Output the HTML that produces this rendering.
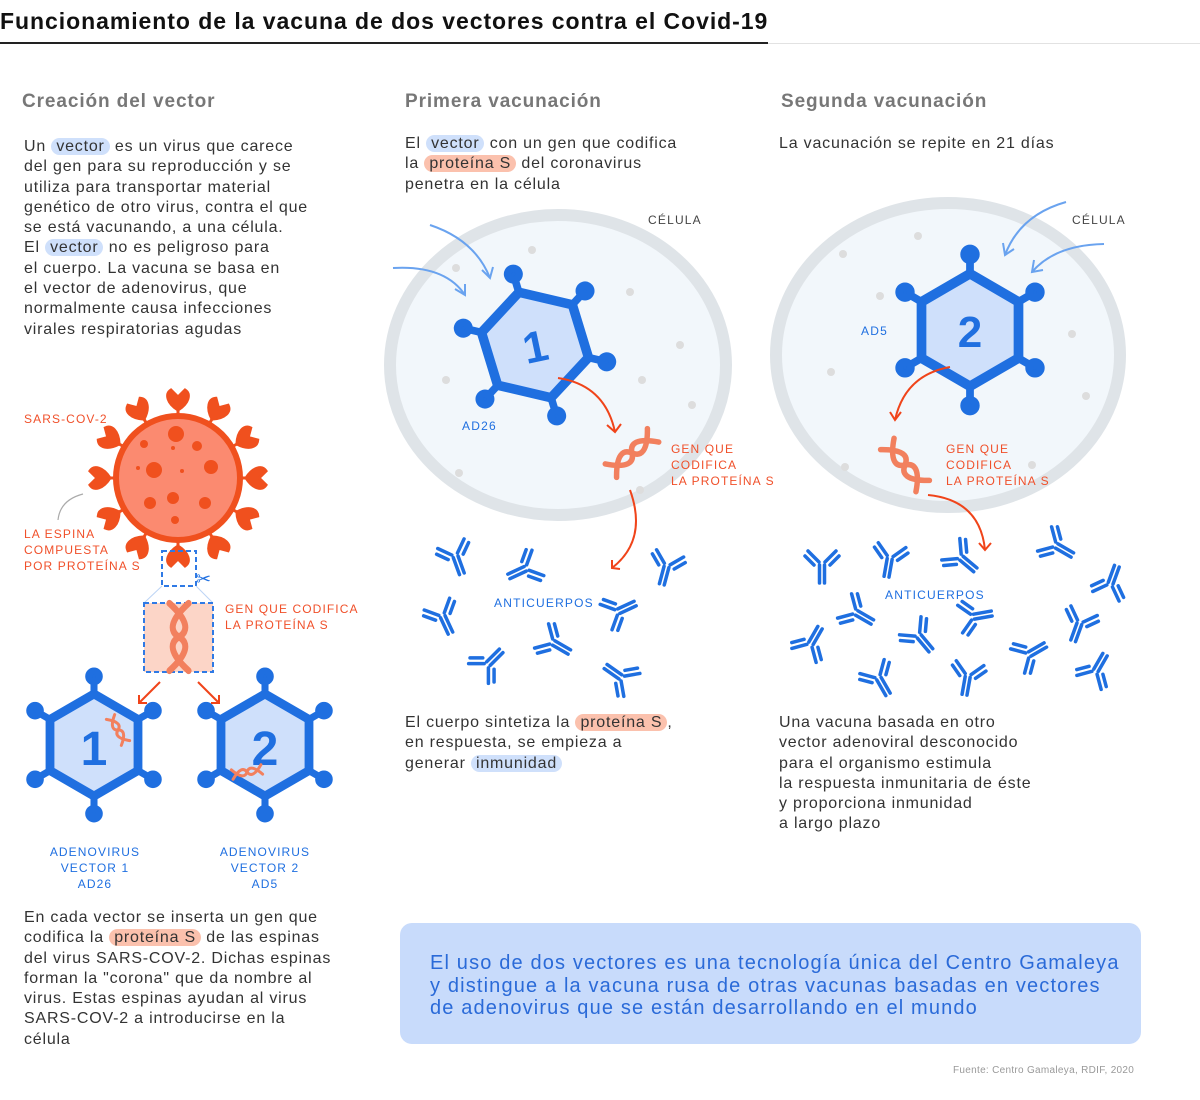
<!DOCTYPE html>
<html><head><meta charset="utf-8"><style>
body{margin:0;width:1200px;height:1100px;background:#fff;font-family:"Liberation Sans",sans-serif;position:relative;overflow:hidden}
.a{position:absolute}
h1{position:absolute;left:0;top:8px;margin:0;font-size:23px;font-weight:bold;color:#111;letter-spacing:0.95px}
h2{position:absolute;margin:0;font-size:19px;font-weight:bold;color:#777;letter-spacing:0.9px}
.p{position:absolute;font-size:16px;line-height:20.3px;color:#333;letter-spacing:0.8px;white-space:nowrap}
.b{background:#cfe0fb;border-radius:10px;padding:0 5px}
.r{background:#fbc1ad;border-radius:10px;padding:0 5px}
.lab{position:absolute;font-size:12px;letter-spacing:1.1px;line-height:16px}
.o{color:#f0502a}.bl{color:#1f6fe0}.g{color:#444}
</style></head><body>
<h1>Funcionamiento de la vacuna de dos vectores contra el Covid-19</h1>
<div class="a" style="left:0;top:43px;width:1200px;height:1px;background:#e2e2e2"></div>
<div class="a" style="left:0;top:42px;width:768px;height:2px;background:#222"></div>
<h2 style="left:22px;top:91px">Creación del vector</h2>
<h2 style="left:405px;top:91px">Primera vacunación</h2>
<h2 style="left:781px;top:91px">Segunda vacunación</h2>
<div class="p" style="left:24px;top:137px">Un <span class="b">vector</span> es un virus que carece<br>del gen para su reproducción y se<br>utiliza para transportar material<br>genético de otro virus, contra el que<br>se está vacunando, a una célula.<br>El <span class="b">vector</span> no es peligroso para<br>el cuerpo. La vacuna se basa en<br>el vector de adenovirus, que<br>normalmente causa infecciones<br>virales respiratorias agudas</div>
<div class="p" style="left:405px;top:134px">El <span class="b">vector</span> con un gen que codifica<br>la <span class="r">proteína S</span> del coronavirus<br>penetra en la célula</div>
<div class="p" style="left:779px;top:134px">La vacunación se repite en 21 días</div>
<div class="p" style="left:405px;top:713px">El cuerpo sintetiza la <span class="r">proteína S</span>,<br>en respuesta, se empieza a<br>generar <span class="b">inmunidad</span></div>
<div class="p" style="left:779px;top:713px">Una vacuna basada en otro<br>vector adenoviral desconocido<br>para el organismo estimula<br>la respuesta inmunitaria de éste<br>y proporciona inmunidad<br>a largo plazo</div>
<div class="p" style="left:24px;top:908px">En cada vector se inserta un gen que<br>codifica la <span class="r">proteína S</span> de las espinas<br>del virus SARS-COV-2. Dichas espinas<br>forman la "corona" que da nombre al<br>virus. Estas espinas ayudan al virus<br>SARS-COV-2 a introducirse en la<br>célula</div>
<div class="a" style="left:400px;top:923px;width:741px;height:121px;background:#c8dbfb;border-radius:12px"></div>
<div class="a" style="left:430px;top:952px;font-size:20px;line-height:22.5px;color:#2a6ad8;letter-spacing:1.15px;white-space:nowrap">El uso de dos vectores es una tecnología única del Centro Gamaleya<br>y distingue a la vacuna rusa de otras vacunas basadas en vectores<br>de adenovirus que se están desarrollando en el mundo</div>
<div class="a" style="left:953px;top:1065px;font-size:10px;color:#999;letter-spacing:0.3px">Fuente: Centro Gamaleya, RDIF, 2020</div>

<svg class="a" style="left:0;top:0" width="1200" height="1100">
<defs>
<g id="hex">
 <g stroke="#1f6fe0" stroke-width="8" fill="#1f6fe0">
  <line x1="0" y1="0" x2="0" y2="-78"/><line x1="0" y1="0" x2="67" y2="-39"/><line x1="0" y1="0" x2="67" y2="39"/>
  <line x1="0" y1="0" x2="0" y2="78"/><line x1="0" y1="0" x2="-67" y2="39"/><line x1="0" y1="0" x2="-67" y2="-39"/>
  <circle cx="0" cy="-78" r="6"/><circle cx="67" cy="-39" r="6"/><circle cx="67" cy="39" r="6"/><circle cx="0" cy="78" r="6"/><circle cx="-67" cy="39" r="6"/><circle cx="-67" cy="-39" r="6"/>
 </g>
 <polygon points="0,-58 50,-29 50,29 0,58 -50,29 -50,-29" fill="#cfe0fb" stroke="#1f6fe0" stroke-width="10" stroke-linejoin="round"/>
</g>
<g id="ab" stroke="#1f6fe0" stroke-width="3.5" stroke-linecap="round" fill="none">
 <line x1="-2.5" y1="2" x2="-2.5" y2="20"/><line x1="2.5" y1="2" x2="2.5" y2="20"/>
 <line x1="-3" y1="-1" x2="-14" y2="-12"/><line x1="-8" y1="2" x2="-17" y2="-7"/>
 <line x1="3" y1="-1" x2="14" y2="-12"/><line x1="8" y1="2" x2="17" y2="-7"/>
</g>
<g id="dna" fill="none" stroke="#f2805e" stroke-width="5" stroke-linecap="round">
 <path d="M-8,-25 C8,-12 8,-4 0,0 C-8,4 -8,12 8,25"/><path d="M8,-25 C-8,-12 -8,-4 0,0 C8,4 8,12 -8,25"/>
</g>
</defs>
<ellipse cx="558" cy="365" rx="168" ry="150" fill="#f2f7fb" stroke="#dfe4e8" stroke-width="12"/>
<ellipse cx="948" cy="355" rx="172" ry="152" fill="#f2f7fb" stroke="#dfe4e8" stroke-width="12"/>
<g fill="#ddd"><circle cx="532" cy="250" r="4"/><circle cx="456" cy="268" r="4"/><circle cx="630" cy="292" r="4"/><circle cx="680" cy="345" r="4"/><circle cx="642" cy="380" r="4"/><circle cx="692" cy="405" r="4"/><circle cx="446" cy="380" r="4"/><circle cx="459" cy="473" r="4"/><circle cx="640" cy="490" r="4"/><circle cx="918" cy="236" r="4"/><circle cx="843" cy="254" r="4"/><circle cx="880" cy="296" r="4"/><circle cx="831" cy="372" r="4"/><circle cx="1072" cy="334" r="4"/><circle cx="1086" cy="396" r="4"/><circle cx="845" cy="467" r="4"/><circle cx="1032" cy="465" r="4"/></g>
<text x="648" y="224" font-size="12" letter-spacing="1.2" fill="#444">CÉLULA</text>
<text x="1072" y="224" font-size="12" letter-spacing="1.2" fill="#444">CÉLULA</text>
<g stroke="#6aa3ef" stroke-width="2" fill="none">
<path d="M430,225 Q475,240 490,278"/><path d="M482,270 490,278 493,267"/>
<path d="M393,268 Q445,265 465,295"/><path d="M455,289 465,295 465,284"/>
<path d="M1066,202 Q1020,215 1005,255"/><path d="M1003,243 1005,255 1014,249"/>
<path d="M1104,244 Q1055,245 1032,272"/><path d="M1034,260 1032,272 1043,270"/>
</g>
<use href="#hex" transform="translate(535,345) rotate(-17) scale(0.95)"/>
<text x="535" y="362" font-size="44" font-weight="bold" fill="#1f6fe0" text-anchor="middle" transform="rotate(-12 535 345)">1</text>
<use href="#hex" transform="translate(970,330) scale(0.97)"/>
<text x="970" y="347" font-size="44" font-weight="bold" fill="#1f6fe0" text-anchor="middle">2</text>
<use href="#hex" transform="translate(94,745) scale(0.88)"/>
<text x="94" y="765" font-size="48" font-weight="bold" fill="#1f6fe0" text-anchor="middle">1</text>
<use href="#hex" transform="translate(265,745) scale(0.88)"/>
<text x="265" y="765" font-size="48" font-weight="bold" fill="#1f6fe0" text-anchor="middle">2</text>
<use href="#dna" transform="translate(118,730) rotate(-30) scale(0.6)"/>
<use href="#dna" transform="translate(247,772) rotate(80) scale(0.6)"/>
<text x="462" y="430" font-size="12" letter-spacing="1.2" fill="#1f6fe0">AD26</text>
<text x="861" y="335" font-size="12" letter-spacing="1.2" fill="#1f6fe0">AD5</text>
<use href="#dna" transform="translate(632,453) rotate(50) scale(1.1)"/>
<use href="#dna" transform="translate(905,465) rotate(-40) scale(1.1)"/>
<g stroke="#f0441a" stroke-width="2" fill="none">
<path d="M558,378 Q605,385 615,432"/><path d="M607,425 615,432 621,424"/>
<path d="M630,490 Q648,540 612,568"/><path d="M612,560 612,568 620,569"/>
<path d="M950,367 Q905,375 895,420"/><path d="M890,412 895,420 901,412"/>
<path d="M928,495 Q980,500 985,550"/><path d="M979,543 985,550 991,543"/>
<path d="M160,682 L139,703"/><path d="M139,695 139,703 147,703"/>
<path d="M198,682 L219,703"/><path d="M211,703 219,703 219,695"/>
</g>
<g>
<use href="#ab" transform="translate(455,555) rotate(-20)"/><use href="#ab" transform="translate(527,568) rotate(65)"/><use href="#ab" transform="translate(667,565) rotate(15)"/>
<use href="#ab" transform="translate(442,615) rotate(-25)"/><use href="#ab" transform="translate(617,612) rotate(-115)"/><use href="#ab" transform="translate(552,642) rotate(-60)"/>
<use href="#ab" transform="translate(487,665) rotate(-135)"/><use href="#ab" transform="translate(622,678) rotate(125)"/>
<use href="#ab" transform="translate(822,563) rotate(0)"/><use href="#ab" transform="translate(890,557) rotate(10)"/><use href="#ab" transform="translate(960,557) rotate(-50)"/><use href="#ab" transform="translate(1055,545) rotate(-60)"/>
<use href="#ab" transform="translate(1110,585) rotate(-160)"/><use href="#ab" transform="translate(855,612) rotate(-60)"/><use href="#ab" transform="translate(918,635) rotate(-40)"/><use href="#ab" transform="translate(972,617) rotate(-100)"/>
<use href="#ab" transform="translate(1080,622) rotate(20)"/><use href="#ab" transform="translate(810,645) rotate(-150)"/><use href="#ab" transform="translate(878,677) rotate(-30)"/><use href="#ab" transform="translate(968,675) rotate(10)"/>
<use href="#ab" transform="translate(1028,655) rotate(-120)"/><use href="#ab" transform="translate(1095,672) rotate(-150)"/>
</g>
<text x="494" y="607" font-size="12" letter-spacing="1.2" fill="#1f6fe0">ANTICUERPOS</text>
<text x="885" y="599" font-size="12" letter-spacing="1.2" fill="#1f6fe0">ANTICUERPOS</text>
<g transform="translate(178,478)">
 <g fill="#f0501e" stroke="#f0501e" stroke-width="3">
  <g id="sp"><line x1="0" y1="0" x2="0" y2="-75"/><path d="M0,-68 C-11,-75 -13,-84 -7,-88 L0,-81 L7,-88 C13,-84 11,-75 0,-68Z"/></g>
  <use href="#sp" transform="rotate(30)"/><use href="#sp" transform="rotate(60)"/><use href="#sp" transform="rotate(90)"/><use href="#sp" transform="rotate(120)"/><use href="#sp" transform="rotate(150)"/><use href="#sp" transform="rotate(180)"/><use href="#sp" transform="rotate(210)"/><use href="#sp" transform="rotate(240)"/><use href="#sp" transform="rotate(270)"/><use href="#sp" transform="rotate(300)"/><use href="#sp" transform="rotate(330)"/>
 </g>
 <circle r="62" fill="#fb8a70" stroke="#f0501e" stroke-width="6"/>
 <g fill="#f0501e"><circle cx="-2" cy="-44" r="8"/><circle cx="-34" cy="-34" r="4"/><circle cx="19" cy="-32" r="5"/><circle cx="-24" cy="-8" r="8"/><circle cx="33" cy="-11" r="7"/><circle cx="4" cy="-7" r="2"/><circle cx="-5" cy="20" r="6"/><circle cx="-28" cy="25" r="6"/><circle cx="27" cy="25" r="6"/><circle cx="-3" cy="42" r="4"/><circle cx="-5" cy="-30" r="2"/><circle cx="-40" cy="-10" r="2"/></g>
</g>
<path d="M83,494 Q60,500 58,520" stroke="#aaa" stroke-width="1.2" fill="none"/>
<rect x="162" y="551" width="34" height="35" fill="none" stroke="#2f7ae5" stroke-width="2" stroke-dasharray="5,3"/>
<line x1="162" y1="586" x2="144" y2="603" stroke="#bcd4f5"/><line x1="196" y1="586" x2="213" y2="603" stroke="#bcd4f5"/>
<rect x="144" y="603" width="69" height="69" fill="#fcd5c7" stroke="#2f7ae5" stroke-width="2" stroke-dasharray="5,3"/>
<use href="#dna" transform="translate(179,637) scale(1.2,1.35)"/>
<text x="196" y="585" font-size="18" fill="#1f6fe0">✂</text>
</svg>
<div class="lab o" style="left:24px;top:411px">SARS-COV-2</div>
<div class="lab o" style="left:24px;top:526px">LA ESPINA<br>COMPUESTA<br>POR PROTEÍNA S</div>
<div class="lab o" style="left:225px;top:601px">GEN QUE CODIFICA<br>LA PROTEÍNA S</div>
<div class="lab o" style="left:671px;top:441px">GEN QUE<br>CODIFICA<br>LA PROTEÍNA S</div>
<div class="lab o" style="left:946px;top:441px">GEN QUE<br>CODIFICA<br>LA PROTEÍNA S</div>
<div class="lab bl" style="left:45px;top:844px;width:100px;text-align:center">ADENOVIRUS<br>VECTOR 1<br>AD26</div>
<div class="lab bl" style="left:215px;top:844px;width:100px;text-align:center">ADENOVIRUS<br>VECTOR 2<br>AD5</div>
</body></html>
